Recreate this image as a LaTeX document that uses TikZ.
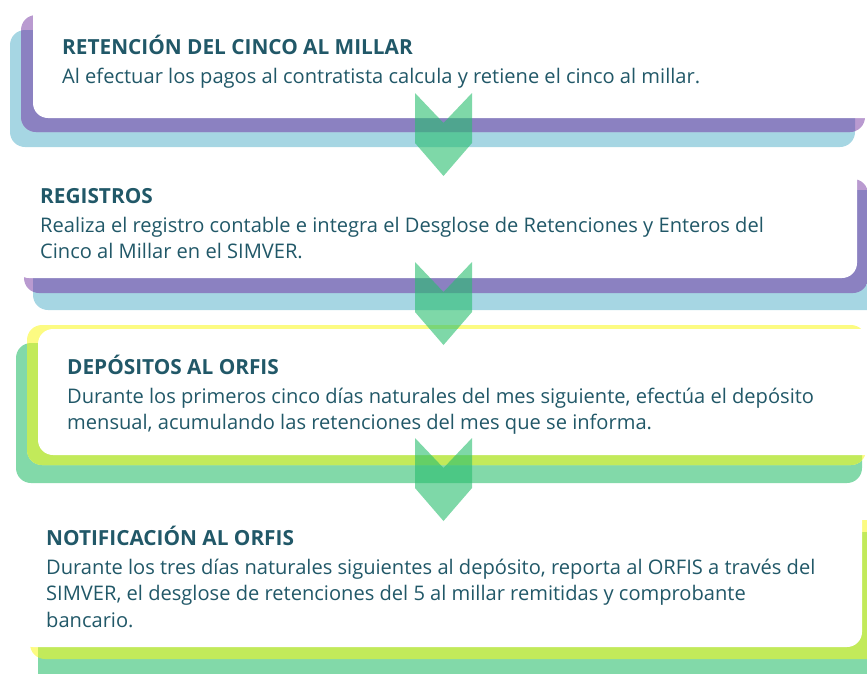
\documentclass[tikz,border=0pt]{standalone}
\usepackage{fontspec}
\setmainfont{Open Sans}
\usetikzlibrary{positioning}
\definecolor{cardblue}{RGB}{166,214,227}
\definecolor{lilac}{RGB}{185,154,208}
\definecolor{violetmix}{RGB}{139,129,193}
\definecolor{lemon}{RGB}{252,251,130}
\definecolor{mint}{RGB}{130,217,169}
\definecolor{limemix}{RGB}{194,234,90}
\definecolor{chevgreen}{RGB}{40,190,110}
\definecolor{ink}{RGB}{33,88,104}
\tikzset{%
  layer/.style = {rounded corners=15pt},
   card/.style = {layer, fill=white},
   head/.style = {anchor=base west, inner sep=0pt, text=ink,
                  font=\fontsize{20.8}{24}\selectfont\bfseries},
   body/.style = {anchor=north west, inner sep=0pt, text=ink, align=left,
                  font=\fontsize{20.1}{26.7}\selectfont},
chevron/.style = {fill=chevgreen, fill opacity=0.6},
}
% two coloured layers, their overlap in a third colour
\newcommand{\twolayers}[6]{%
  \fill[layer, #1] #2;
  \fill[layer, #3] #4;
  \begin{scope}
    \clip[layer] #2;
    \fill[layer, #5] #4;
  \end{scope}
}
\newcommand{\chev}[1]{%
  \fill[chevron] (#1) -- ++(28.5,30) -- ++(28.5,-30) -- ++(0,50)
                 -- ++(-28.5,33) -- ++(-28.5,-33) -- cycle;
}

\begin{document}
\begin{tikzpicture}[x=1pt, y=-1pt]
  \useasboundingbox (0,0) rectangle (867,673);

  % cards
  \twolayers{cardblue}{(10,30) rectangle (855,147)}{lilac}{(21,15) rectangle (865,132)}{violetmix}{}
  \fill[card] (33,-5) rectangle (885,118);

  \twolayers{lilac}{(24,179) rectangle (868,293)}{cardblue}{(33,190) rectangle (885,310)}{violetmix}{}
  \fill[card] (14,164) rectangle (857,278);

  \twolayers{mint}{(16,343) rectangle (862,483)}{lemon}{(27,325) rectangle (866,465)}{limemix}{}
  \fill[card] (38,329) rectangle (885,455);

  \twolayers{lemon}{(30,520) rectangle (885,659)}{mint}{(38,532) rectangle (885,690)}{limemix}{}
  \fill[card] (18,505) rectangle (862,647);

  % texts
  \node (tit1) [head] at (62,54) {RETENCIÓN DEL CINCO AL MILLAR};
  \node (txt1) [body, below=10.3pt of tit1.base west, anchor=north west]
        {\strut Al efectuar los pagos al contratista calcula y retiene el cinco al millar.};

  \node (tit2) [head] at (40,203) {REGISTROS};
  \node (txt2) [body, below=10.3pt of tit2.base west, anchor=north west]
        {\strut Realiza el registro contable e integra el Desglose de Retenciones y Enteros del\\
         Cinco al Millar en el SIMVER.};

  \node (tit3) [head] at (67,374) {DEPÓSITOS AL ORFIS};
  \node (txt3) [body, below=10.3pt of tit3.base west, anchor=north west]
        {\strut Durante los primeros cinco días naturales del mes siguiente, efectúa el depósito\\
         mensual, acumulando las retenciones del mes que se informa.};

  \node (tit4) [head] at (46,545) {NOTIFICACIÓN AL ORFIS};
  \node (txt4) [body, below=10.3pt of tit4.base west, anchor=north west]
        {\strut Durante los tres días naturales siguientes al depósito, reporta al ORFIS a través del\\
         SIMVER, el desglose de retenciones del 5 al millar remitidas y comprobante\\
         bancario.};

  % chevrons
  \chev{415,93}
  \chev{415,262}
  \chev{415,438}
\end{tikzpicture}
\end{document}
